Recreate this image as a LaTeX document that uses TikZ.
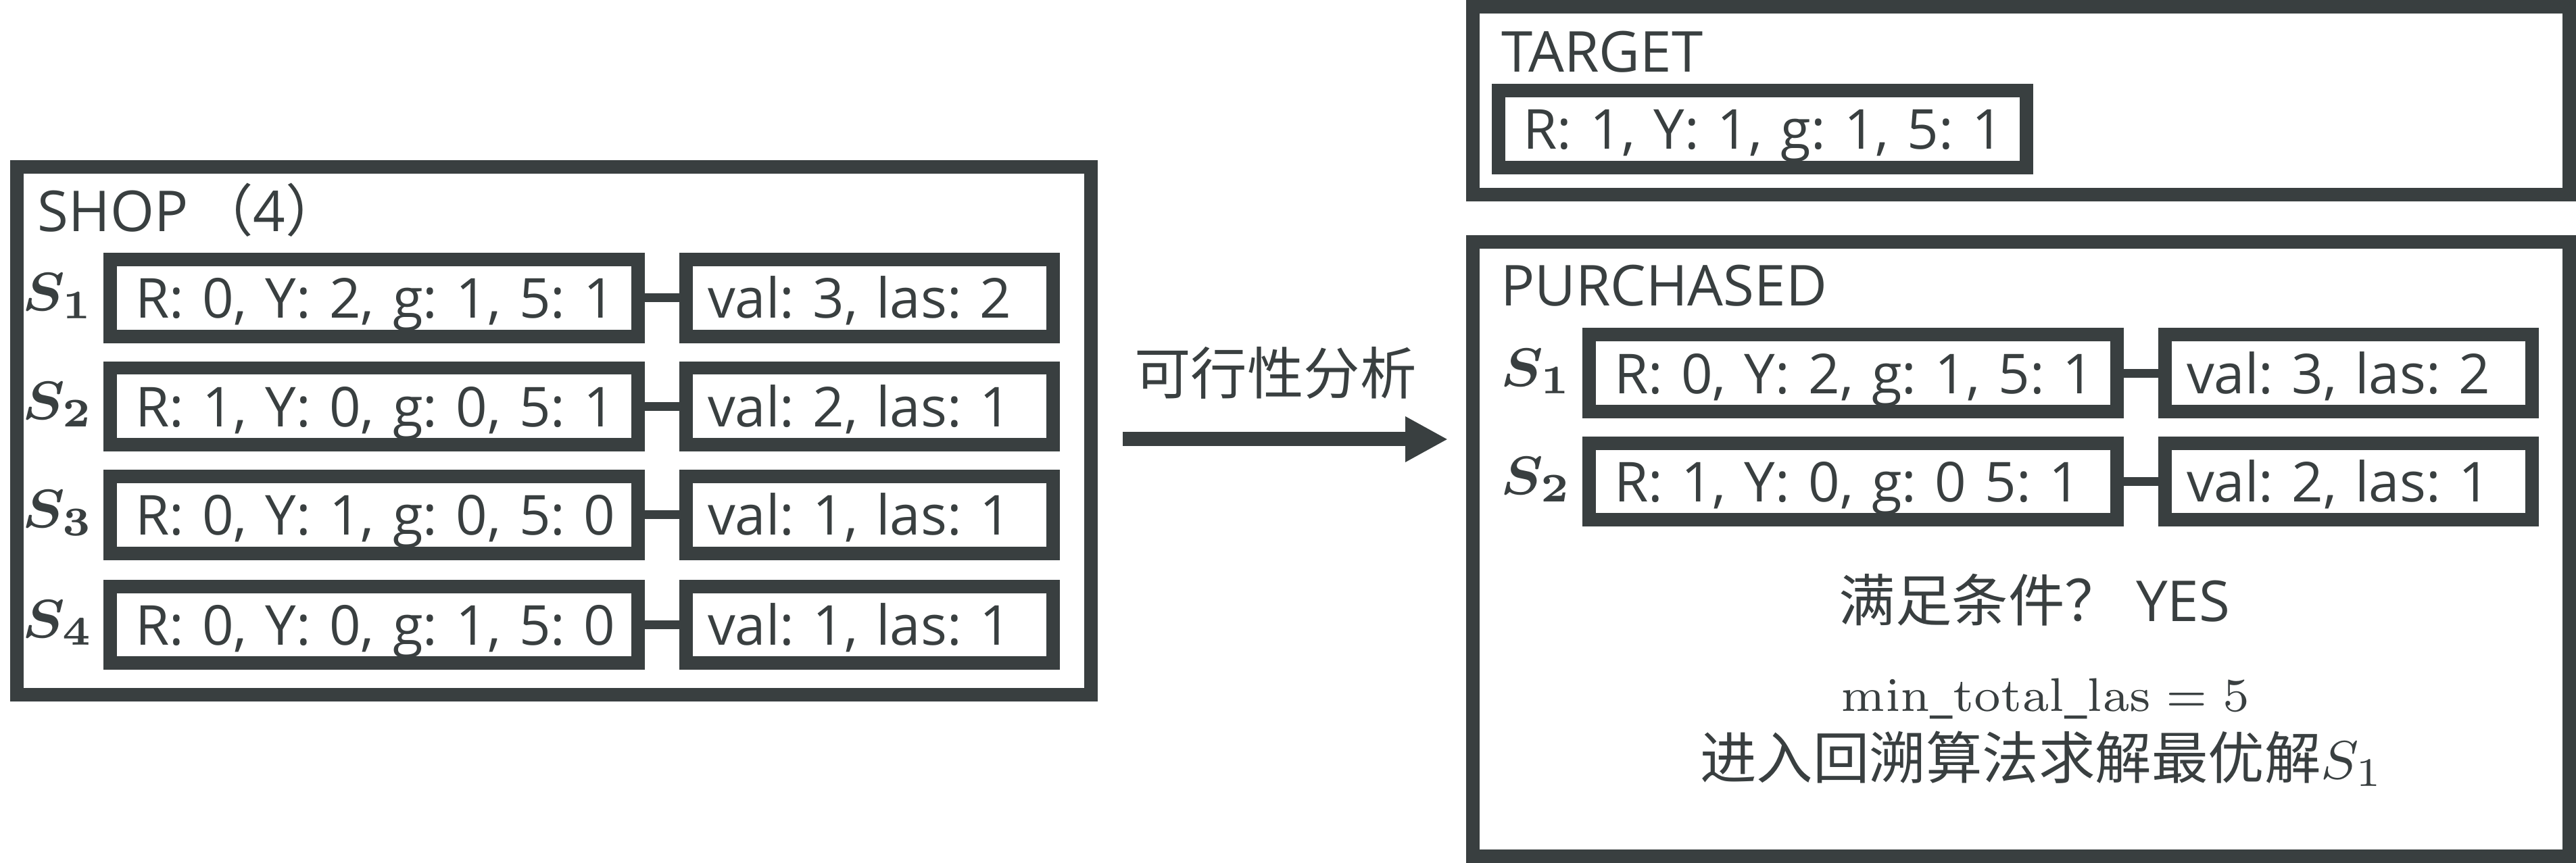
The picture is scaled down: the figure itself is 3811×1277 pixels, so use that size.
\documentclass[tikz,border=0pt]{standalone}
\usepackage[no-math]{fontspec}
\setmainfont{Open Sans}
\newfontfamily\cjk[Scale=1.0]{Noto Sans CJK SC}
\usepackage{bm}
\usetikzlibrary{arrows.meta,calc}
\definecolor{ink}{RGB}{57,63,64}
\frenchspacing
\tikzset{
  every node/.style={font=\fontsize{8.35}{10}\selectfont\frenchspacing},
  frame/.style={draw, line width=2pt, inner sep=0pt},
  databox/.style={draw, line width=2pt, minimum height=11.4pt, inner ysep=0pt,
    text height=7.1pt, text depth=1.1pt, align=left,
    font=\fontsize{8.15}{10}\selectfont\frenchspacing},
  lbox/.style={databox, text width=70.7pt, inner xsep=3.7pt},
  rbox/.style={databox, text width=47.9pt, inner xsep=3.2pt},
  link/.style={line width=1.3pt},
  slabel/.style={anchor=base, inner sep=0pt, font=\fontsize{8.2}{10}\selectfont},
  boxtitle/.style={anchor=base west, inner sep=0pt},
  plain/.style={anchor=base, inner sep=0pt},
  arr/.style={line width=2.1pt, -{Triangle[length=6.3pt,width=6.3pt]}}
}
\begin{document}
\begin{tikzpicture}[x=0.1pt, y=-0.1pt, color=ink]
\useasboundingbox (0,0) rectangle (3811,1277);

% ---------- SHOP ----------
\node[frame, minimum width=158.9pt, minimum height=78.1pt] (shop) at (819.5,637.5) {};
\node[boxtitle] (shoptitle) at (54,343) {SHOP\hspace{0.15em}{\cjk （}4{\cjk ）}};

\node[lbox] (sl1) at (553.5,441)   {\mbox{R: 0, Y: 2, g: 1, 5: 1}};
\node[rbox] (sr1) at (1286.5,441)  {\mbox{val: 3, las: 2}};
\node[lbox] (sl2) at (553.5,601.5) {\mbox{R: 1, Y: 0, g: 0, 5: 1}};
\node[rbox] (sr2) at (1286.5,601.5){\mbox{val: 2, las: 1}};
\node[lbox] (sl3) at (553.5,762)   {\mbox{R: 0, Y: 1, g: 0, 5: 0}};
\node[rbox] (sr3) at (1286.5,762)  {\mbox{val: 1, las: 1}};
\node[lbox] (sl4) at (553.5,924.5) {\mbox{R: 0, Y: 0, g: 1, 5: 0}};
\node[rbox] (sr4) at (1286.5,924.5){\mbox{val: 1, las: 1}};

\draw[link] (sl1.east) -- (sr1.west);
\draw[link] (sl2.east) -- (sr2.west);
\draw[link] (sl3.east) -- (sr3.west);
\draw[link] (sl4.east) -- (sr4.west);

\node[slabel] (ss1) at (86.5,460)   {$\bm{S_1}$};
\node[slabel] (ss2) at (86.5,620.5) {$\bm{S_2}$};
\node[slabel] (ss3) at (86.5,781)   {$\bm{S_3}$};
\node[slabel] (ss4) at (86.5,943.5) {$\bm{S_4}$};

% ---------- TARGET ----------
\node[frame, minimum width=162.2pt, minimum height=27.8pt] (target) at (2990,149) {};
\node[boxtitle] (targettitle) at (2219,107) {TARGET};
\node[lbox] (tg) at (2607,191) {\mbox{R: 1, Y: 1, g: 1, 5: 1}};

% ---------- PURCHASED ----------
\node[frame, minimum width=162.2pt, minimum height=90.9pt] (purch) at (2990,812.5) {};
\node[boxtitle] (purchtitle) at (2218,453) {PURCHASED};

\node[lbox] (pl1) at (2741.5,552.5) {\mbox{R: 0, Y: 2, g: 1, 5: 1}};
\node[rbox] (pr1) at (3474.5,552.5) {\mbox{val: 3, las: 2}};
\node[lbox] (pl2) at (2741.5,712.5) {\mbox{R: 1, Y: 0, g: 0 5: 1}};
\node[rbox] (pr2) at (3474.5,712.5) {\mbox{val: 2, las: 1}};
\draw[link] (pl1.east) -- (pr1.west);
\draw[link] (pl2.east) -- (pr2.west);

\node[slabel] (ps1) at (2273.5,571.5) {$\bm{S_1}$};
\node[slabel] (ps2) at (2273.5,731.5) {$\bm{S_2}$};

\node[plain] (cond) at (3010,920) {{\cjk 满足条件？} YES};
\node[plain, font=\fontsize{7.45}{10}\selectfont] (minlas) at (3026,1052) {$\mathrm{min\_total\_las} = 5$};
\node[plain] (enter) at (3021,1152) {{\cjk 进入回溯算法求解最优解}$S_1$};

% ---------- arrow ----------
\node[plain] (feas) at (1887,584) {\cjk 可行性分析};
\draw[arr] ($(shop.east)+(37,12.5)$) -- ($(shop.east -| purch.west)+(-27,12.5)$);
\end{tikzpicture}
\end{document}
